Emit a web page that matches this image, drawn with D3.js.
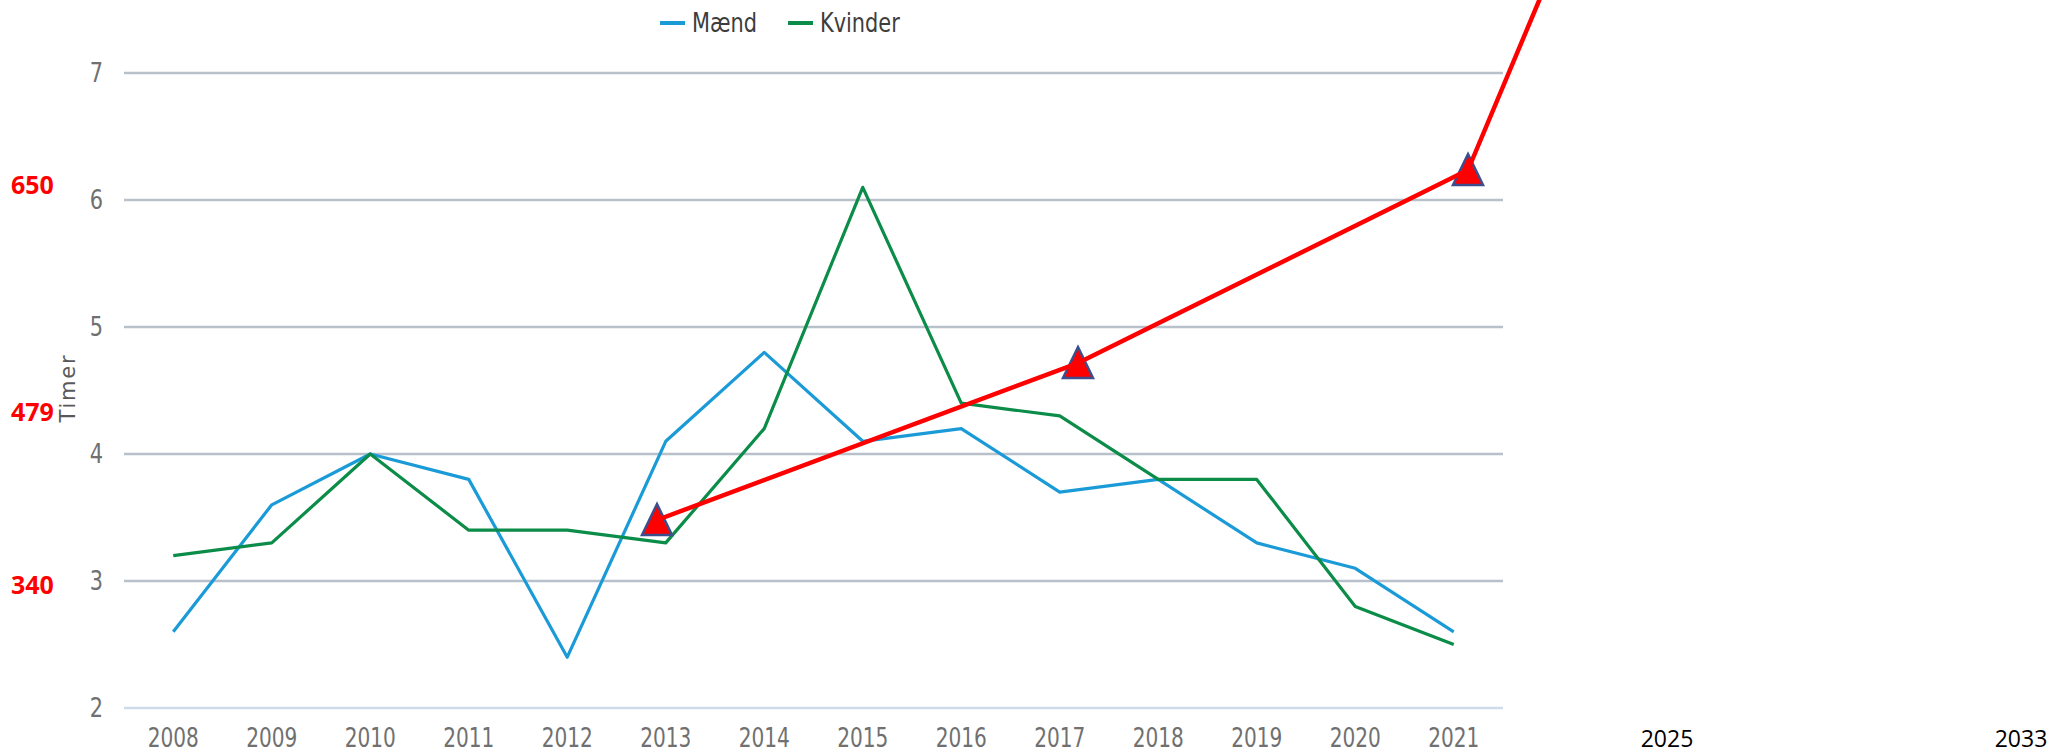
<!DOCTYPE html>
<html>
<head>
<meta charset="utf-8">
<script src="https://cdn.jsdelivr.net/npm/d3@7"></script>
<style>
  body { margin: 0; background: #fff; }
  svg { display: block; }
</style>
</head>
<body>
<svg id="chart" width="2054" height="754"></svg>
<script>
// ---------------- data ----------------
const years = ["2008","2009","2010","2011","2012","2013","2014","2015","2016","2017","2018","2019","2020","2021"];
const maend   = [2.6, 3.6, 4.0, 3.8, 2.4, 4.1, 4.8, 4.1, 4.2, 3.7, 3.8, 3.3, 3.1, 2.6];
const kvinder = [3.2, 3.3, 4.0, 3.4, 3.4, 3.3, 4.2, 6.1, 4.4, 4.3, 3.8, 3.8, 2.8, 2.5];
const seriesNames = ["Mænd", "Kvinder"];
const yTicks = [2, 3, 4, 5, 6, 7];
const yTitle = "Timer";

// red overlay (trend drawn on top)
const trendYears  = [2013, 2017, 2021, 2025];
const trendValues = [340, 479, 650, 1070];
const trendMarkerYears = [2013, 2017, 2021];
const trendLabelValues = [340, 479, 650];
const extraYearLabels  = [2025, 2033];

// ---------------- layout / scales ----------------
const svg = d3.select("#chart");
const W = 2054, H = 754;
svg.append("rect").attr("width", W).attr("height", H).attr("fill", "#fff");

const x = d3.scalePoint().domain(years).range([124, 1503]).padding(0.5);
const y = d3.scaleLinear().domain([2, 7]).range([708, 73]);

// overlay scales (hand-placed overlay in the original)
const tx = d3.scaleLinear().domain([2013, 2017, 2021, 2025, 2033]).range([657, 1078, 1468, 1667, 2021]);
const ty = d3.scaleLinear().domain([340, 650]).range([520, 170]);
const labelY = d3.scaleLinear().domain([340, 479, 650]).range([583.5, 411, 183.5]);

const narrow = "'DejaVu Sans Condensed', 'DejaVu Sans', sans-serif";
const squeeze = 0.86;
const colors = { "Mænd": "#1a9bd7", "Kvinder": "#0b8c48" };

// gridlines
svg.append("g").selectAll("line").data(yTicks).join("line")
  .attr("x1", 124).attr("x2", 1503)
  .attr("y1", d => y(d)).attr("y2", d => y(d))
  .attr("stroke", d => d === 2 ? "#cfdaeb" : "#b8c1ca")
  .attr("stroke-width", 2.5);

// y tick labels
svg.append("g").selectAll("text").data(yTicks).join("text")
  .attr("transform", d => `translate(103,${y(d)}) scale(${squeeze},1)`)
  .attr("text-anchor", "end").attr("dominant-baseline", "central")
  .attr("font-family", narrow).attr("font-stretch", "condensed")
  .attr("font-size", 27).attr("fill", "#707070")
  .text(d => d);

// x tick labels (baseline just above the bottom edge)
svg.append("g").selectAll("text").data(years).join("text")
  .attr("transform", d => `translate(${x(d)},746.5) scale(${squeeze},1)`)
  .attr("text-anchor", "middle")
  .attr("font-family", narrow).attr("font-stretch", "condensed")
  .attr("font-size", 26).attr("fill", "#707070")
  .text(d => d);

// y title
svg.append("text")
  .attr("transform", "translate(68,388) rotate(-90)")
  .attr("text-anchor", "middle").attr("dominant-baseline", "central")
  .attr("font-family", "'DejaVu Sans', Verdana, sans-serif")
  .attr("font-size", 21).attr("letter-spacing", 1.8)
  .attr("fill", "#595959")
  .text(yTitle);

// series lines
const series = [
  { name: seriesNames[0], values: maend },
  { name: seriesNames[1], values: kvinder }
];
const line = d3.line().x((d, i) => x(years[i])).y(d => y(d));
svg.append("g").selectAll("path").data(series).join("path")
  .attr("d", d => line(d.values))
  .attr("fill", "none")
  .attr("stroke", d => colors[d.name])
  .attr("stroke-width", 3.2)
  .attr("stroke-linejoin", "round");

// legend
const leg = svg.append("g");
let lx = 660;
series.forEach(s => {
  leg.append("line").attr("x1", lx).attr("x2", lx + 25).attr("y1", 23).attr("y2", 23)
    .attr("stroke", colors[s.name]).attr("stroke-width", 4);
  const t = leg.append("text")
    .attr("transform", `translate(${lx + 32},23) scale(${squeeze},1)`)
    .attr("dominant-baseline", "central")
    .attr("font-family", narrow).attr("font-stretch", "condensed")
    .attr("font-size", 27).attr("fill", "#3d3d3d")
    .text(s.name);
  lx = lx + 32 + t.node().getComputedTextLength() * squeeze + 31;
});

// overlay: triangles
const tri = { draw(ctx) { ctx.moveTo(0, -16); ctx.lineTo(15, 15); ctx.lineTo(-15, 15); ctx.closePath(); } };
const markers = trendMarkerYears.map(yr => ({ year: yr, value: trendValues[trendYears.indexOf(yr)] }));
svg.append("g").selectAll("path").data(markers).join("path")
  .attr("transform", d => `translate(${tx(d.year)},${ty(d.value)})`)
  .attr("d", d3.symbol().type(tri)())
  .attr("fill", "#ff0000").attr("stroke", "#3c4e8c").attr("stroke-width", 2.5)
  .attr("stroke-linejoin", "miter");

// overlay: red trend line
const trend = trendYears.map((yr, i) => ({ year: yr, value: trendValues[i] }));
svg.append("path")
  .attr("d", d3.line().x(d => tx(d.year)).y(d => ty(d.value))(trend))
  .attr("fill", "none").attr("stroke", "#ff0000").attr("stroke-width", 4.5)
  .attr("stroke-linejoin", "round").attr("stroke-linecap", "round");

// overlay: red value labels
svg.append("g").selectAll("text").data(trendLabelValues).join("text")
  .attr("x", 11).attr("y", d => labelY(d))
  .attr("dominant-baseline", "central")
  .attr("font-family", "'Open Sans', 'Liberation Sans', sans-serif")
  .attr("font-weight", "bold").attr("font-size", 25).attr("fill", "#ff0000")
  .text(d => d);

// overlay: extra year labels
svg.append("g").selectAll("text").data(extraYearLabels).join("text")
  .attr("x", d => tx(d)).attr("y", 746.5)
  .attr("text-anchor", "middle")
  .attr("font-family", "'Open Sans', 'Liberation Sans', sans-serif")
  .attr("font-size", 23).attr("fill", "#000")
  .text(d => d);
</script>
</body>
</html>
